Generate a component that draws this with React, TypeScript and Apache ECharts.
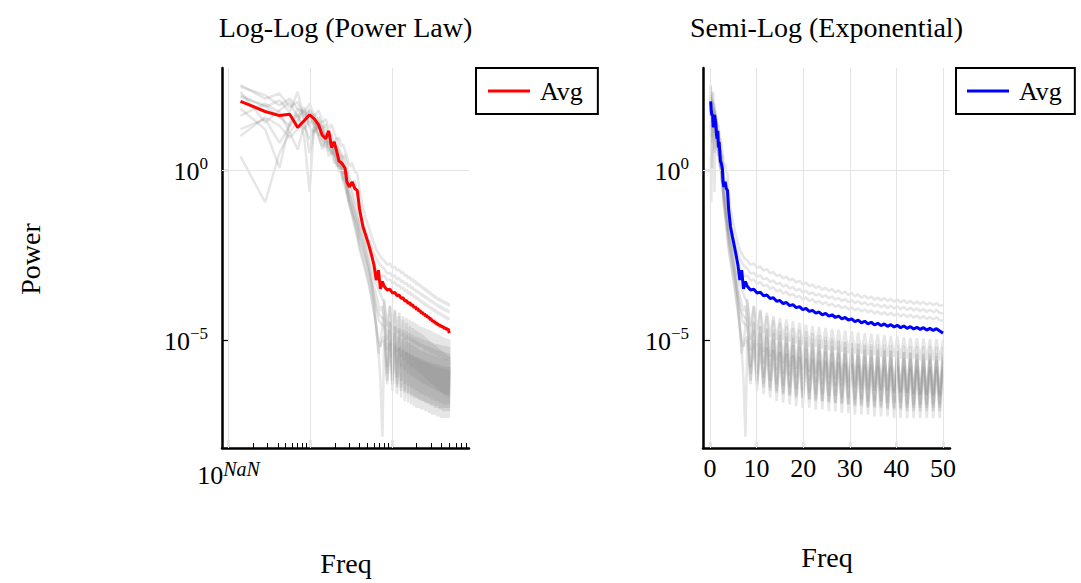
import React, { useEffect, useRef } from 'react';
import * as echarts from 'echarts';

// Frequencies (shared by both panels)
const FREQ = [
  0.14, 0.28, 0.42, 0.56, 0.70, 0.84, 0.98, 1.12, 1.26, 1.40, 1.54, 1.68, 1.82, 1.96, 2.10, 2.24, 2.38, 2.52, 2.66, 2.80,
  3.00, 3.25, 3.50, 3.75, 4.00, 4.40, 4.80, 5.20, 5.60, 6.00, 6.40, 6.80, 7.20, 7.60,
  8.0, 8.7, 9.4, 10.1, 10.8, 11.5, 12.2, 12.9, 13.6, 14.3,
  15.0, 15.7, 16.4, 17.1, 17.8, 18.5, 19.2, 19.9, 20.6, 21.3,
  22.0, 22.7, 23.4, 24.1, 24.8, 25.5, 26.2, 26.9, 27.6, 28.3,
  29.0, 29.7, 30.4, 31.1, 31.8, 32.5, 33.2, 33.9, 34.6, 35.3,
  36.0, 36.7, 37.4, 38.1, 38.8, 39.5, 40.2, 40.9, 41.6, 42.3,
  43.0, 43.7, 44.4, 45.1, 45.8, 46.5, 47.2, 47.9, 48.6, 49.3,
  50.0,
];

// Power values stored as log10 exponents
const AVG_LOG = [
  2.02, 1.72, 1.60, 1.64, 1.25, 1.45, 1.62, 1.50, 1.33, 1.02, 0.92, 1.15, 0.66, 0.83, 0.55, 0.26, 0.22, 0.14, 0.05, -0.35,
  -0.50, -0.35, -0.55, -0.60, -1.15, -1.67, -1.95, -2.22, -2.50, -2.80, -3.24, -2.95, -3.50, -3.28,
  -3.42, -3.53, -3.51, -3.62, -3.60, -3.70, -3.68, -3.78, -3.76, -3.86,
  -3.84, -3.93, -3.90, -3.99, -3.96, -4.05, -4.02, -4.11, -4.07, -4.16,
  -4.13, -4.21, -4.18, -4.26, -4.22, -4.30, -4.26, -4.34, -4.30, -4.38,
  -4.34, -4.42, -4.38, -4.46, -4.42, -4.50, -4.45, -4.53, -4.48, -4.56,
  -4.51, -4.58, -4.53, -4.60, -4.55, -4.62, -4.57, -4.64, -4.59, -4.66,
  -4.61, -4.68, -4.63, -4.69, -4.64, -4.71, -4.66, -4.72, -4.67, -4.74,
  -4.80,
];

const SAMPLE_1 = [
  2.45, 2.20, 1.90, 2.10, 1.80, 1.70, 1.95, 1.60, 1.75, 1.40, 1.50, 1.20, 1.35, 1.10, 0.90, 0.95, 0.70, 0.75, 0.55, 0.40,
  0.10, 0.20, -0.05, -0.10, -0.60, -1.10, -1.45, -1.70, -1.95, -2.15, -2.35, -2.45, -2.55, -2.62,
  -2.66, -2.79, -2.75, -2.88, -2.84, -2.96, -2.92, -3.04, -3.00, -3.12,
  -3.08, -3.19, -3.14, -3.25, -3.20, -3.31, -3.26, -3.37, -3.31, -3.42,
  -3.37, -3.47, -3.42, -3.52, -3.46, -3.56, -3.50, -3.60, -3.54, -3.64,
  -3.58, -3.68, -3.62, -3.72, -3.66, -3.76, -3.69, -3.79, -3.72, -3.82,
  -3.75, -3.84, -3.77, -3.86, -3.79, -3.88, -3.81, -3.90, -3.83, -3.92,
  -3.85, -3.94, -3.87, -3.95, -3.88, -3.97, -3.90, -3.98, -3.91, -4.00,
  -3.97,
];

const SAMPLE_2 = [
  2.30, 1.40, 1.75, 2.00, 1.55, 1.85, 1.30, 1.65, 1.45, 1.20, 1.35, 0.95, 1.05, 0.80, 0.95, 0.60, 0.50, 0.35, 0.45, 0.10,
  -0.20, -0.45, -0.30, -0.80, -1.25, -1.55, -1.85, -2.05, -2.25, -2.45, -2.60, -2.72, -2.80, -2.86,
  -2.90, -3.05, -3.02, -3.14, -3.10, -3.22, -3.18, -3.30, -3.25, -3.36,
  -3.32, -3.43, -3.38, -3.49, -3.44, -3.55, -3.50, -3.60, -3.55, -3.65,
  -3.60, -3.70, -3.64, -3.74, -3.68, -3.78, -3.72, -3.82, -3.76, -3.86,
  -3.80, -3.89, -3.83, -3.92, -3.86, -3.95, -3.89, -3.98, -3.92, -4.01,
  -3.95, -4.04, -3.97, -4.06, -3.99, -4.08, -4.01, -4.10, -4.03, -4.12,
  -4.05, -4.14, -4.07, -4.16, -4.09, -4.18, -4.11, -4.19, -4.12, -4.21,
  -4.22,
];

const SAMPLE_3 = [
  2.15, 1.90, 1.55, 1.30, 1.80, 1.50, 1.70, 1.25, 1.55, 1.10, 0.90, 1.15, 0.70, 0.85, 0.50, 0.60, 0.30, 0.40, 0.05, -0.10,
  -0.40, -0.60, -0.90, -1.10, -1.50, -1.80, -2.10, -2.35, -2.55, -2.75, -2.90, -3.00, -3.08, -3.14,
  -3.10, -3.25, -3.22, -3.34, -3.30, -3.42, -3.38, -3.50, -3.45, -3.57,
  -3.52, -3.64, -3.58, -3.70, -3.64, -3.76, -3.70, -3.81, -3.75, -3.86,
  -3.80, -3.91, -3.85, -3.95, -3.89, -3.99, -3.93, -4.03, -3.97, -4.07,
  -4.01, -4.10, -4.04, -4.13, -4.07, -4.16, -4.10, -4.19, -4.13, -4.22,
  -4.16, -4.25, -4.18, -4.27, -4.20, -4.29, -4.22, -4.31, -4.24, -4.33,
  -4.26, -4.35, -4.28, -4.37, -4.30, -4.39, -4.32, -4.40, -4.33, -4.42,
  -4.43,
];

const SAMPLE_4 = [
  1.80, 1.20, 0.06, 1.40, 1.65, 1.20, 1.50, 1.35, 1.00, 1.20, 0.80, 0.95, 0.60, 0.40, 0.55, 0.20, 0.05, 0.15, -0.20, -0.45,
  -0.70, -0.95, -1.20, -1.45, -1.70, -2.00, -2.30, -2.60, -2.90, -3.15, -3.35, -3.50, -3.65, -3.80,
  -3.9, -4.6, -4.0, -4.7, -4.1, -4.8, -4.2, -4.9, -4.3, -5.0,
  -4.35, -5.0, -4.4, -5.05, -4.45, -5.1, -4.5, -5.15, -4.55, -5.2,
  -4.6, -5.2, -4.62, -5.25, -4.65, -5.3, -4.68, -5.3, -4.7, -5.35,
  -4.72, -5.4, -4.75, -5.4, -4.78, -5.4, -4.8, -5.45, -4.82, -5.45,
  -4.84, -5.5, -4.86, -5.5, -4.88, -5.5, -4.9, -5.55, -4.92, -5.55,
  -4.94, -5.55, -4.95, -5.6, -4.96, -5.6, -4.97, -5.6, -4.98, -5.6,
  -5.0,
];

const SAMPLE_5 = [
  1.60, 1.95, 1.70, 1.10, 1.45, 1.75, 1.25, 1.10, 1.40, 0.85, 1.05, 0.70, 0.50, 0.65, 0.30, 0.10, 0.20, -0.10, -0.30, -0.55,
  -0.90, -1.10, -1.40, -1.60, -1.90, -2.20, -2.55, -2.85, -3.15, -3.45, -3.70, -3.95, -4.15, -4.00,
  -4.3, -5.3, -4.45, -5.5, -4.6, -5.7, -4.7, -5.8, -4.8, -5.9,
  -4.85, -6.0, -4.9, -6.05, -4.95, -6.1, -5.0, -6.15, -5.05, -6.2,
  -5.1, -6.25, -5.12, -6.3, -5.15, -6.3, -5.18, -6.35, -5.2, -6.35,
  -5.22, -6.4, -5.24, -6.4, -5.26, -6.45, -5.28, -6.45, -5.3, -6.5,
  -5.31, -6.5, -5.32, -6.5, -5.33, -6.55, -5.34, -6.55, -5.35, -6.55,
  -5.36, -6.6, -5.37, -6.6, -5.38, -6.6, -5.38, -6.6, -5.39, -6.6,
  -5.4,
];

const SAMPLE_6 = [
  1.20, 1.50, 0.80, 1.30, 1.60, 1.00, -0.65, 1.45, 0.95, 0.70, 0.90, 0.55, 0.75, 0.35, 0.10, 0.25, -0.10, -0.30, -0.20, -0.60,
  -0.95, -1.25, -1.50, -1.80, -2.10, -2.40, -2.70, -3.05, -3.40, -3.75, -4.10, -4.40, -4.50, -4.55,
  -4.6, -6.0, -4.7, -6.2, -4.8, -6.3, -4.9, -6.4, -5.0, -6.5,
  -5.05, -6.55, -5.1, -6.6, -5.15, -6.65, -5.2, -6.7, -5.25, -6.75,
  -5.3, -6.8, -5.32, -6.8, -5.35, -6.85, -5.38, -6.85, -5.4, -6.9,
  -5.42, -6.9, -5.44, -6.95, -5.46, -6.95, -5.48, -7.0, -5.5, -7.0,
  -5.51, -7.0, -5.52, -7.05, -5.53, -7.05, -5.54, -7.05, -5.55, -7.1,
  -5.56, -7.1, -5.57, -7.1, -5.58, -7.1, -5.58, -7.1, -5.59, -7.1,
  -5.6,
];

const SAMPLE_7 = [
  0.40, -0.95, 0.50, 1.10, 0.60, 1.30, 0.90, 1.25, 1.05, 0.60, 0.85, 0.40, 0.55, 0.20, 0.30, -0.05, 0.00, -0.35, -0.50, -0.75,
  -1.05, -1.35, -1.70, -2.00, -2.35, -2.70, -3.05, -3.40, -3.80, -4.20, -4.60, -5.00, -5.20, -5.00,
  -4.9, -6.3, -5.0, -6.5, -5.1, -6.6, -5.2, -6.7, -5.28, -6.8,
  -5.35, -6.85, -5.4, -6.9, -5.45, -6.95, -5.5, -7.0, -5.55, -7.0,
  -5.6, -7.05, -5.62, -7.05, -5.65, -7.1, -5.68, -7.1, -5.7, -7.15,
  -5.72, -7.15, -5.74, -7.2, -5.76, -7.2, -5.78, -7.2, -5.8, -7.25,
  -5.81, -7.25, -5.82, -7.25, -5.83, -7.3, -5.84, -7.3, -5.85, -7.3,
  -5.86, -7.3, -5.87, -7.3, -5.88, -7.3, -5.88, -7.3, -5.89, -7.3,
  -5.9,
];

const SAMPLE_8 = [
  2.50, 2.10, 2.25, 1.85, 2.00, 1.60, 1.80, 1.40, 1.20, 1.30, 0.95, 0.75, 0.85, 0.50, 0.30, 0.40, 0.10, -0.10, -0.05, -0.40,
  -0.75, -1.05, -1.35, -1.65, -1.95, -2.30, -2.65, -3.00, -3.35, -3.70, -4.00, -4.20, -4.30, -4.35,
  -4.4, -5.8, -4.5, -6.0, -4.6, -6.1, -4.65, -6.2, -4.7, -6.3,
  -4.75, -6.35, -4.8, -6.4, -4.85, -6.45, -4.9, -6.5, -4.92, -6.55,
  -4.95, -6.6, -4.98, -6.6, -5.0, -6.65, -5.02, -6.65, -5.04, -6.7,
  -5.06, -6.7, -5.08, -6.75, -5.1, -6.75, -5.11, -6.8, -5.12, -6.8,
  -5.13, -6.8, -5.14, -6.85, -5.15, -6.85, -5.16, -6.85, -5.17, -6.9,
  -5.18, -6.9, -5.18, -6.9, -5.19, -6.9, -5.19, -6.9, -5.2, -6.9,
  -5.2,
];

const SAMPLE_9 = [
  1.00, 1.55, 1.30, 0.95, 1.20, 1.50, 0.50, 1.15, 1.30, 0.90, 0.65, 0.85, 0.45, 0.60, 0.20, 0.05, 0.15, -0.25, -0.40, -0.65,
  -1.00, -1.30, -1.60, -1.90, -2.25, -2.60, -2.95, -3.30, -3.70, -4.10, -4.60, -5.30, -6.20, -7.85,
  -5.0, -6.2, -5.1, -6.3, -5.2, -6.4, -5.25, -6.5, -5.3, -6.55,
  -5.35, -6.6, -5.4, -6.65, -5.45, -6.7, -5.5, -6.7, -5.52, -6.75,
  -5.55, -6.75, -5.58, -6.8, -5.6, -6.8, -5.62, -6.85, -5.64, -6.85,
  -5.66, -6.9, -5.68, -6.9, -5.7, -6.9, -5.71, -6.95, -5.72, -6.95,
  -5.73, -6.95, -5.74, -7.0, -5.75, -7.0, -5.76, -7.0, -5.77, -7.0,
  -5.78, -7.0, -5.78, -7.0, -5.79, -7.0, -5.79, -7.0, -5.8, -7.0,
  -5.8,
];

const SAMPLE_10 = [
  2.20, 1.85, 2.05, 1.70, 2.30, 1.50, 1.75, 1.55, 1.20, 1.45, 1.00, 1.15, 0.80, 0.60, 0.70, 0.35, 0.45, 0.10, -0.15, -0.05,
  -0.50, -0.80, -1.10, -1.40, -1.75, -2.05, -2.40, -2.80, -3.30, -3.90, -4.70, -5.40, -5.10, -4.60,
  -3.8, -5.0, -4.0, -5.2, -4.15, -5.35, -4.3, -5.5, -4.4, -5.6,
  -4.5, -5.7, -4.6, -5.8, -4.65, -5.85, -4.7, -5.9, -4.75, -5.95,
  -4.8, -6.0, -4.85, -6.05, -4.9, -6.1, -4.95, -6.15, -5.0, -6.2,
  -5.05, -6.25, -5.1, -6.3, -5.13, -6.33, -5.16, -6.36, -5.2, -6.4,
  -5.23, -6.43, -5.26, -6.46, -5.3, -6.5, -5.33, -6.53, -5.36, -6.56,
  -5.39, -6.59, -5.42, -6.62, -5.44, -6.64, -5.46, -6.66, -5.48, -6.68,
  -5.5,
];

const SAMPLES = [
  SAMPLE_1, SAMPLE_2, SAMPLE_3, SAMPLE_4, SAMPLE_5,
  SAMPLE_6, SAMPLE_7, SAMPLE_8, SAMPLE_9, SAMPLE_10,
];

// Tick positions
const LOG_X_MAJOR = [0.1, 1, 10];
const LOG_X_MINOR = [
  0.2, 0.3, 0.4, 0.5, 0.6, 0.7, 0.8, 0.9,
  2, 3, 4, 5, 6, 7, 8, 9,
  20, 30, 40, 50, 60, 70, 80,
];
const LOG_X_LABELS = [0.1];
const LIN_X_TICKS = [0, 10, 20, 30, 40, 50];
const Y_TICKS = [1, 1e-5];

const FONT = '"Liberation Serif", "DejaVu Serif", serif';
const GRID_COLOR = '#e4e4e4';
const SAMPLE_COLOR = 'rgba(128,128,128,0.2)';

export default function App() {
  const ref = useRef<HTMLDivElement>(null);

  useEffect(() => {
    if (!ref.current) return;
    const chart = echarts.init(ref.current, null, { renderer: 'svg' });

    const pts = (arr: number[]) => FREQ.map((f, i) => [f, Math.pow(10, arr[i])]);

    const rich = {
      b: { fontFamily: FONT, fontSize: 26, color: '#000', padding: [3, 0, 0, 0] },
      s: { fontFamily: FONT, fontSize: 17, color: '#000', verticalAlign: 'top' },
      si: { fontFamily: FONT, fontSize: 20, color: '#000', verticalAlign: 'top', fontStyle: 'italic' },
    };
    const expLabel = (v: number) => {
      const e = Math.round(Math.log10(v));
      return `{b|10}{s|${e < 0 ? '\u2212' + -e : e}}`;
    };

    const yMin = Math.pow(10, -8.18);
    const yMax = Math.pow(10, 3);
    const xLogMin = Math.pow(10, -1.08);
    const xLogMax = Math.pow(10, 1.94);

    const axisLine = { show: true, onZero: false, lineStyle: { color: '#000', width: 2.5 } };

    const yAxis = (gridIndex: number) => ({
      type: 'log',
      logBase: 10,
      gridIndex,
      min: yMin,
      max: yMax,
      axisLine,
      axisTick: { show: true, inside: true, length: 7, customValues: Y_TICKS, lineStyle: { color: '#000', width: 1.2 } },
      axisLabel: { show: true, customValues: Y_TICKS, formatter: expLabel, margin: 14, rich },
      splitLine: { show: false },
    });

    const gridHelper = (xAxisIndex: number, yAxisIndex: number, xs: number[]) => ({
      type: 'line',
      xAxisIndex,
      yAxisIndex,
      data: [],
      silent: true,
      markLine: {
        silent: true,
        symbol: ['none', 'none'],
        label: { show: false },
        animation: false,
        lineStyle: { color: GRID_COLOR, width: 1, type: 'solid' },
        emphasis: { disabled: true },
        data: [...xs.map((v) => ({ xAxis: v })), ...Y_TICKS.map((v) => ({ yAxis: v }))],
      },
    });

    const sampleSeries = (xAxisIndex: number, yAxisIndex: number) =>
      SAMPLES.map((s) => ({
        type: 'line',
        xAxisIndex,
        yAxisIndex,
        data: pts(s),
        symbol: 'none',
        silent: true,
        clip: true,
        lineStyle: { color: SAMPLE_COLOR, width: 2.5 },
        emphasis: { disabled: true },
      }));

    const legendBase = {
      orient: 'vertical',
      top: 68,
      borderColor: '#000',
      borderWidth: 2,
      backgroundColor: '#fff',
      icon: 'rect',
      itemWidth: 42,
      itemHeight: 3,
      selectedMode: false,
      formatter: () => 'Avg',
      textStyle: { fontFamily: FONT, fontSize: 26, color: '#000', lineHeight: 30, padding: [0, 0, 0, 5] },
    };

    const textEl = (x: number, y: number, text: string, rotation = 0) => ({
      type: 'text',
      x,
      y,
      rotation,
      silent: true,
      style: { text, fontFamily: FONT, fontSize: 28, fill: '#000', align: 'center', verticalAlign: 'middle' },
    });

    chart.setOption({
      animation: false,
      backgroundColor: '#fff',
      grid: [
        { left: 222, top: 68, width: 247, height: 380, containLabel: false },
        { left: 703, top: 68, width: 247, height: 380, containLabel: false },
      ],
      xAxis: [
        {
          type: 'log',
          logBase: 10,
          gridIndex: 0,
          position: 'bottom',
          min: xLogMin,
          max: xLogMax,
          axisLine,
          axisTick: { show: true, inside: true, length: 8, customValues: LOG_X_MAJOR, lineStyle: { color: '#000', width: 1.2 } },
          axisLabel: {
            show: true,
            customValues: LOG_X_LABELS,
            formatter: () => '{b|10}{si|NaN}',
            margin: 11,
            rich,
          },
          splitLine: { show: false },
        },
        {
          type: 'log',
          logBase: 10,
          gridIndex: 0,
          position: 'bottom',
          min: xLogMin,
          max: xLogMax,
          axisLine: { show: false },
          axisTick: { show: true, inside: true, length: 5, customValues: LOG_X_MINOR, lineStyle: { color: '#000', width: 1 } },
          axisLabel: { show: false },
          splitLine: { show: false },
        },
        {
          type: 'value',
          gridIndex: 1,
          position: 'bottom',
          min: -1.5,
          max: 51.5,
          axisLine,
          axisTick: { show: true, inside: true, length: 6, customValues: LIN_X_TICKS, lineStyle: { color: '#000', width: 1.2 } },
          axisLabel: {
            show: true,
            customValues: LIN_X_TICKS,
            margin: 7,
            fontFamily: FONT,
            fontSize: 26,
            color: '#000',
          },
          splitLine: { show: false },
        },
      ],
      yAxis: [yAxis(0), yAxis(1)],
      legend: [
        { ...legendBase, left: 476, data: ['AvgL'], padding: [8, 15, 8, 12] },
        { ...legendBase, left: 956, data: ['AvgR'], padding: [8, 13, 8, 11] },
      ],
      series: [
        gridHelper(0, 0, LOG_X_MAJOR),
        gridHelper(2, 1, LIN_X_TICKS),
        ...sampleSeries(0, 0),
        ...sampleSeries(2, 1),
        {
          name: 'AvgL',
          type: 'line',
          xAxisIndex: 0,
          yAxisIndex: 0,
          data: pts(AVG_LOG),
          symbol: 'none',
          silent: true,
          clip: true,
          z: 5,
          itemStyle: { color: '#ff0000' },
          lineStyle: { color: '#ff0000', width: 3 },
        },
        {
          name: 'AvgR',
          type: 'line',
          xAxisIndex: 2,
          yAxisIndex: 1,
          data: pts(AVG_LOG),
          symbol: 'none',
          silent: true,
          clip: true,
          z: 5,
          itemStyle: { color: '#0000ff' },
          lineStyle: { color: '#0000ff', width: 3 },
        },
      ],
      graphic: [
        textEl(345.5, 27, 'Log-Log (Power Law)'),
        textEl(826.5, 27, 'Semi-Log (Exponential)'),
        textEl(30, 259, 'Power', Math.PI / 2),
        textEl(346, 563, 'Freq'),
        textEl(827, 557, 'Freq'),
      ],
    });

    return () => chart.dispose();
  }, []);

  return (
    <div
      ref={ref}
      style={{ position: 'fixed', left: 0, top: 0, width: 1081, height: 583, background: '#fff' }}
    />
  );
}
